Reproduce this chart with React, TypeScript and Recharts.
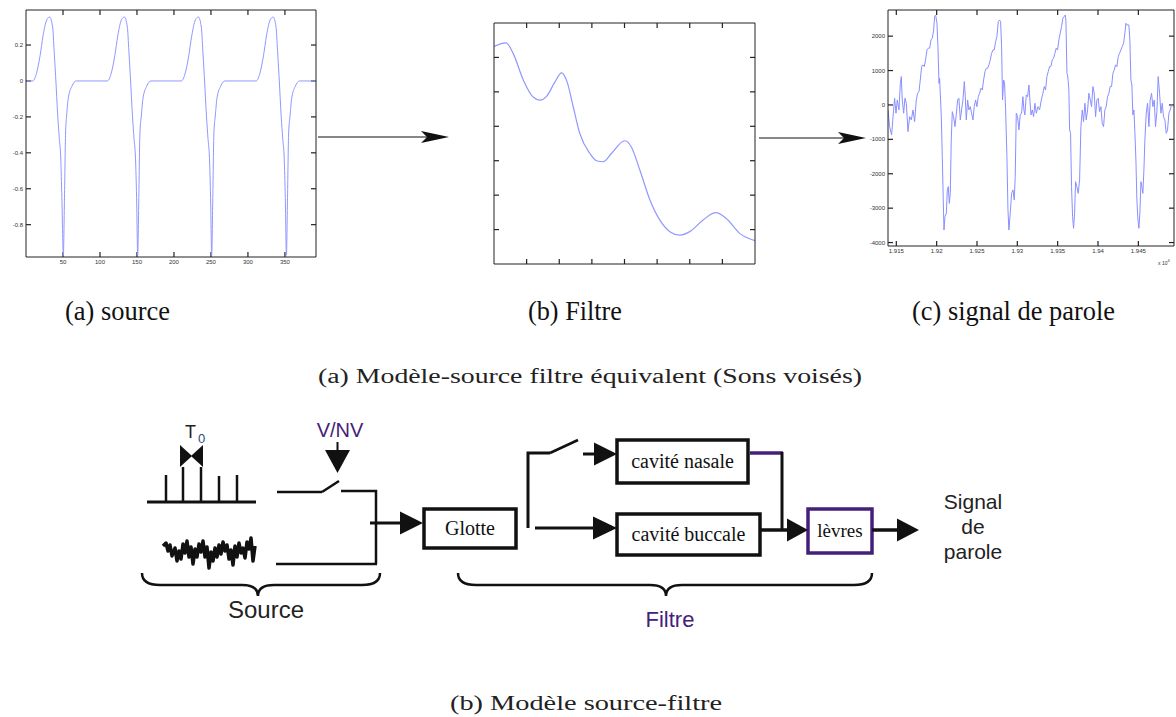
import React from "react";
import { LineChart, Line, XAxis, YAxis, ReferenceLine } from "recharts";

// (a) source : glottal pulses, 4 periods
const SOURCE_T = [
  1, 9, 14, 19, 23, 28, 32, 36, 38, 40, 43, 45, 47, 48.5, 50.5, 52, 53.5, 55, 57, 62, 68,
  110, 115, 120, 124, 129, 133, 137, 139, 141, 144, 146, 148, 149.5, 151, 152.5, 154, 156, 158, 163, 169,
  210, 215, 220, 224, 229, 233, 237, 239, 241, 244, 246, 248, 249.5, 251, 252.5, 254, 256, 258, 263, 269,
  311, 316, 321, 325, 330, 334, 338, 340, 342, 345, 347, 349, 350.5, 352, 353.5, 355, 357, 359, 364, 370, 392,
];
const SOURCE_V = [
  0, 0, 0.04, 0.14, 0.25, 0.34, 0.356, 0.3, 0.17, 0.03, -0.2, -0.32, -0.43, -0.65, -0.97, -0.65, -0.29, -0.19, -0.1, -0.03, 0,
  0, 0.04, 0.14, 0.25, 0.34, 0.356, 0.3, 0.17, 0.03, -0.2, -0.32, -0.43, -0.65, -0.97, -0.65, -0.29, -0.19, -0.1, -0.03, 0,
  0, 0.04, 0.14, 0.25, 0.34, 0.356, 0.3, 0.17, 0.03, -0.2, -0.32, -0.43, -0.65, -0.97, -0.65, -0.29, -0.19, -0.1, -0.03, 0,
  0, 0.04, 0.14, 0.25, 0.34, 0.356, 0.3, 0.17, 0.03, -0.2, -0.32, -0.43, -0.65, -0.97, -0.65, -0.29, -0.19, -0.1, -0.03, 0, 0,
];
const SOURCE_XTICKS = [50, 100, 150, 200, 250, 300, 350];
const SOURCE_YTICKS = [-0.8, -0.6, -0.4, -0.2, 0, 0.2];

// (b) filtre : spectral envelope, no labels
const FILTER_F = [
  0, 0.37, 0.59, 0.9, 1.2, 1.41, 1.61, 1.87, 2.07, 2.24, 2.43, 2.63, 2.94, 3.14, 3.35,
  3.6, 4.01, 4.21, 4.47, 4.78, 5.08, 5.39, 5.69, 6.0, 6.41, 6.8, 7.12, 7.53, 8.0,
];
const FILTER_G = [
  6.32, 6.42, 6.11, 5.34, 4.85, 4.76, 4.87, 5.29, 5.55, 5.29, 4.56, 3.79, 3.21, 3.0, 2.97,
  3.21, 3.58, 3.4, 2.73, 1.86, 1.28, 0.94, 0.84, 0.94, 1.28, 1.49, 1.32, 0.89, 0.68,
];
const FILTER_XTICKS = [1, 2, 3, 4, 5, 6, 7];
const FILTER_YTICKS = [1, 2, 3, 4, 5, 6];

// (c) signal de parole : samples (x 10^4) and amplitude
const SPEECH_T = [
  19139.7, 19141.7, 19144.2, 19146.3, 19147.9, 19149.6, 19151.2, 19153.3, 19155.0, 19156.2,
  19157.4, 19159.1, 19160.7, 19162.4, 19164.5, 19166.5, 19168.6, 19170.7, 19172.7, 19174.8,
  19176.4, 19178.1, 19179.7, 19181.4, 19183.0, 19184.7, 19186.3, 19188.0, 19189.6, 19191.3,
  19193.0, 19194.6, 19196.3, 19197.5, 19198.7, 19200.4, 19201.6, 19202.9, 19203.7, 19204.5,
  19205.8, 19207.0, 19208.2, 19209.1, 19210.3, 19212.0, 19213.2, 19214.4, 19215.7, 19216.9,
  19218.1, 19219.4, 19221.0, 19222.7, 19224.3, 19226.0, 19227.6, 19229.3, 19230.9, 19232.6,
  19234.3, 19235.5, 19236.7, 19238.4, 19240.0, 19241.7, 19243.3, 19245.0, 19246.6, 19248.3,
  19249.9, 19251.6, 19253.3, 19254.9, 19256.6, 19258.2, 19259.9, 19261.5, 19263.2, 19264.8,
  19266.5, 19268.1, 19269.8, 19271.4, 19273.1, 19274.7, 19276.4, 19278.0, 19279.3, 19280.5,
  19281.7, 19283.0, 19284.2, 19285.5, 19287.1, 19288.4, 19289.6, 19291.2, 19292.9, 19294.6,
  19296.2, 19297.4, 19298.7, 19300.3, 19302.0, 19303.6, 19305.3, 19306.9, 19308.2, 19309.4,
  19311.1, 19312.7, 19314.4, 19315.6, 19316.9, 19318.5, 19320.2, 19321.8, 19323.5, 19325.5,
  19327.6, 19329.7, 19331.7, 19333.4, 19335.0, 19336.7, 19338.3, 19340.0, 19341.6, 19343.3,
  19344.9, 19346.6, 19348.2, 19349.9, 19351.5, 19353.2, 19354.8, 19356.5, 19358.2, 19359.4,
  19360.2, 19361.5, 19362.3, 19363.1, 19363.9, 19364.8, 19366.0, 19367.2, 19368.5, 19369.7,
  19371.0, 19372.2, 19373.8, 19375.5, 19377.2, 19378.8, 19380.5, 19382.1, 19383.8, 19385.4,
  19387.1, 19388.7, 19390.4, 19392.0, 19393.7, 19395.3, 19397.0, 19398.6, 19400.3, 19401.9,
  19403.6, 19405.2, 19406.9, 19408.5, 19410.2, 19411.8, 19413.5, 19415.1, 19416.8, 19418.5,
  19420.1, 19421.8, 19423.4, 19425.1, 19426.7, 19428.4, 19430.0, 19431.7, 19433.3, 19434.6,
  19435.8, 19438.3, 19439.5, 19440.8, 19442.0, 19443.2, 19444.5, 19445.7, 19447.0, 19448.2,
  19449.4, 19450.7, 19451.9, 19453.2, 19454.4, 19455.6, 19456.9, 19458.1, 19459.8, 19461.4,
  19463.1, 19464.7, 19466.4, 19468.0, 19469.7, 19471.3, 19473.0, 19474.6, 19476.3, 19478.0,
  19479.6, 19481.2, 19482.9, 19484.6, 19486.2, 19487.9, 19489.5, 19491.2, 19493.6,
];
const SPEECH_V = [
  -145, -630, -870, -240, 195, -240, 145, -145, 630, 825,
  145, -240, 195, 50, -775, -340, -435, -145, -485, 145,
  340, 390, 725, 1115, 1165, 1115, 1310, 1600, 1650, 1650,
  1890, 1940, 2180, 2570, 2615, 2375, 1695, 630, 775, 340,
  -340, -1500, -2760, -3635, -3245, -3150, -2470, -2375, -2860, -2570,
  -1015, -195, -340, -630, -290, 145, 195, -435, -145, 145,
  680, 240, -435, 145, -145, -50, -240, -435, -50, 145,
  -50, 240, 340, 485, 435, 725, 970, 1065, 1065, 1165,
  1310, 1500, 1600, 1600, 1840, 1985, 2420, 2470, 2420, 1695,
  145, 725, 630, -145, -1500, -3050, -3635, -3150, -2570, -2470,
  -2760, -2085, -240, -340, -725, -290, -240, 240, -145, -290,
  290, 240, 580, 145, -290, -145, -340, 50, -240, -50,
  -145, 145, 340, 535, 435, 825, 970, 1115, 1115, 1310,
  1355, 1500, 1650, 1600, 1890, 2085, 2275, 2520, 2570, 2615,
  2470, 920, 870, 680, 435, -725, -825, -2375, -3245, -3585,
  -3150, -2230, -2375, -2570, -2180, -630, -145, -485, 50, -435,
  -145, 340, 145, -50, 535, 340, -340, 145, 195, -195,
  -50, -535, -630, -145, -50, 240, 340, 535, 535, 920,
  1015, 1165, 1115, 1405, 1500, 1600, 1695, 1790, 2085, 2375,
  2325, 2325, 1890, 725, 580, -290, -145, -775, -1600, -2760,
  -3295, -3585, -3150, -2230, -2375, -2570, -1890, -1015, -240, 50,
  -630, 145, 340, -50, 145, -630, -195, 825, 340, -240,
  50, -340, -435, -825, -725, -240, -145, 0, -50,
];
const SPEECH_XTICKS = [19150, 19200, 19250, 19300, 19350, 19400, 19450];
const SPEECH_YTICKS = [-4000, -3000, -2000, -1000, 0, 1000, 2000];

const sourceData = SOURCE_T.map((t, i) => ({ t, v: SOURCE_V[i] }));
const filterData = FILTER_F.map((f, i) => ({ f, g: FILTER_G[i] }));
const speechData = SPEECH_T.map((t, i) => ({ t, v: SPEECH_V[i] }));

const LINE_BLUE = "#9297ff";
const FRAME = "#222";
const tickFont = { fontSize: 6, fill: "#333", fontFamily: "Liberation Sans" };
const noLabel = () => <g />;

const frameAxis = {
  axisLine: { stroke: FRAME, strokeWidth: 1 },
  tickLine: false,
  tickSize: -5,
  allowDataOverflow: true,
  interval: 0 as const,
};

// draws only 5px at both ends of a reference line -> inward tick marks on both sides
const InnerTicks = (p: any) => {
  const { x1, y1, x2, y2 } = p;
  const len = Math.hypot(x2 - x1, y2 - y1) || 1;
  const ux = ((x2 - x1) / len) * 5;
  const uy = ((y2 - y1) / len) * 5;
  return (
    <g stroke={FRAME} strokeWidth={1.2}>
      <line x1={x1} y1={y1} x2={x1 + ux} y2={y1 + uy} />
      <line x1={x2} y1={y2} x2={x2 - ux} y2={y2 - uy} />
    </g>
  );
};

// matlab style box: axis lines on 4 sides, labels on bottom/left only
function Frame(props: {
  xKey: string;
  yKey: string;
  xDomain: [number, number];
  yDomain: [number, number];
  xTicks: number[];
  yTicks: number[];
  sizes: [number, number, number, number]; // top, right, bottom, left
  xLabels?: boolean;
  yLabels?: boolean;
  xFormat?: (v: number) => string;
}) {
  const [t, r, b, l] = props.sizes;
  return [
    <XAxis
      key="xb"
      xAxisId="b"
      dataKey={props.xKey}
      type="number"
      domain={props.xDomain}
      ticks={props.xTicks}
      height={b}
      tickMargin={8}
      tick={props.xLabels ? tickFont : noLabel}
      tickFormatter={props.xFormat}
      {...frameAxis}
    />,
    <XAxis
      key="xt"
      xAxisId="t"
      dataKey={props.xKey}
      orientation="top"
      type="number"
      domain={props.xDomain}
      ticks={props.xTicks}
      height={t}
      tick={noLabel}
      {...frameAxis}
    />,
    <YAxis
      key="yl"
      yAxisId="l"
      dataKey={props.yKey}
      type="number"
      domain={props.yDomain}
      ticks={props.yTicks}
      width={l}
      tickMargin={8}
      tick={props.yLabels ? tickFont : noLabel}
      {...frameAxis}
    />,
    <YAxis
      key="yr"
      yAxisId="r"
      dataKey={props.yKey}
      orientation="right"
      type="number"
      domain={props.yDomain}
      ticks={props.yTicks}
      width={r}
      tick={noLabel}
      {...frameAxis}
    />,
    ...props.xTicks.map((x) => (
      <ReferenceLine key={`tx${x}`} xAxisId="b" yAxisId="l" x={x} stroke={FRAME} shape={InnerTicks} />
    )),
    ...props.yTicks.map((y) => (
      <ReferenceLine key={`ty${y}`} xAxisId="b" yAxisId="l" y={y} stroke={FRAME} shape={InnerTicks} />
    )),
  ];
}

const SourceChart = () => (
  <div style={{ position: "absolute", left: 0, top: 0 }}>
    <LineChart width={330} height={275} data={sourceData} margin={{ top: 0, right: 0, bottom: 0, left: 0 }}>
      {Frame({
        xKey: "t",
        yKey: "v",
        xDomain: [0, 392],
        yDomain: [-0.98, 0.395],
        xTicks: SOURCE_XTICKS,
        yTicks: SOURCE_YTICKS,
        sizes: [10, 14, 18, 26],
        xLabels: true,
        yLabels: true,
      })}
      <Line xAxisId="b" yAxisId="l" type="monotone" dataKey="v" stroke={LINE_BLUE} strokeWidth={1} dot={false} isAnimationActive={false} />
    </LineChart>
  </div>
);

const FilterChart = () => (
  <div style={{ position: "absolute", left: 480, top: 10 }}>
    <LineChart width={290} height={265} data={filterData} margin={{ top: 0, right: 0, bottom: 0, left: 0 }}>
      {Frame({
        xKey: "f",
        yKey: "g",
        xDomain: [0, 8],
        yDomain: [0, 7],
        xTicks: FILTER_XTICKS,
        yTicks: FILTER_YTICKS,
        sizes: [13, 15, 11, 14],
      })}
      <Line xAxisId="b" yAxisId="l" type="monotone" dataKey="g" stroke={LINE_BLUE} strokeWidth={1.2} dot={false} isAnimationActive={false} />
    </LineChart>
  </div>
);

const SpeechChart = () => (
  <div style={{ position: "absolute", left: 850, top: 0 }}>
    <LineChart width={326} height={275} data={speechData} margin={{ top: 0, right: 0, bottom: 0, left: 0 }}>
      {Frame({
        xKey: "t",
        yKey: "v",
        xDomain: [19139.7, 19494.2],
        yDomain: [-4100, 2760],
        xTicks: SPEECH_XTICKS,
        yTicks: SPEECH_YTICKS,
        sizes: [10, 2, 29, 38],
        xLabels: true,
        yLabels: true,
        xFormat: (v: number) => String(parseFloat((v / 10000).toFixed(3))),
      })}
      <Line xAxisId="b" yAxisId="l" type="linear" dataKey="v" stroke="#8a8fff" strokeWidth={1} dot={false} isAnimationActive={false} />
    </LineChart>
  </div>
);

const PURPLE = "#45207a";
const INK = "#111";
const serif = "Liberation Serif";
const sans = "Liberation Sans";

const Arrow = ({ x1, x2, y, len = 22, half = 11.5, w = 3 }: { x1: number; x2: number; y: number; len?: number; half?: number; w?: number }) => (
  <g>
    <line x1={x1} y1={y} x2={x2 - len + 3} y2={y} stroke={INK} strokeWidth={w} />
    <polygon points={`${x2 - len},${y - half} ${x2},${y} ${x2 - len},${y + half}`} fill={INK} />
  </g>
);

const Dart = ({ x1, x2, y }: { x1: number; x2: number; y: number }) => (
  <g>
    <line x1={x1} y1={y} x2={x2 - 20} y2={y} stroke={INK} strokeWidth={1.2} />
    <polygon points={`${x2},${y} ${x2 - 28},${y - 6} ${x2 - 22},${y} ${x2 - 28},${y + 6}`} fill={INK} />
  </g>
);

const Brace = ({ x1, x2, xm }: { x1: number; x2: number; xm: number }) => (
  <path
    d={`M${x1},573 Q${x1},585 ${x1 + 18},585 L${xm - 16},585 Q${xm},585 ${xm},596 Q${xm},585 ${xm + 16},585 L${x2 - 18},585 Q${x2},585 ${x2},573`}
    fill="none"
    stroke={INK}
    strokeWidth={2.5}
  />
);

const NOISE = "163,546 166,543 168,551 170,545 172,556 175,548 177,561 179,551 181,559 183,544 185,553 187,541 189,557 191,547 193,564 195,549 197,557 199,544 201,552 203,541 205,557 207,547 209,568 211,552 213,561 215,548 217,557 219,545 221,554 223,542 225,551 227,545 229,559 231,550 233,565 235,546 237,557 239,543 241,553 243,548 245,558 247,542 249,549 251,538 253,561 255,546";

const Overlay = () => (
  <svg width={1176} height={717} style={{ position: "absolute", left: 0, top: 0 }}>
    {/* arrows between the three plots */}
    <Dart x1={318} x2={449} y={137} />
    <Dart x1={759} x2={866} y={138} />

    {/* sub captions */}
    <g fontFamily={serif} fontSize={27} fill={INK}>
      <text x={65} y={320} textLength={105} lengthAdjust="spacingAndGlyphs">(a) source</text>
      <text x={528} y={320} textLength={94} lengthAdjust="spacingAndGlyphs">(b) Filtre</text>
      <text x={912} y={320} textLength={203} lengthAdjust="spacingAndGlyphs">(c) signal de parole</text>
    </g>
    <text x={590} y={383} textAnchor="middle" fontFamily={serif} fontSize={20} fill="#222" textLength={544} lengthAdjust="spacingAndGlyphs">
      (a)  Modèle-source filtre équivalent (Sons voisés)
    </text>
    <text x={586} y={710} textAnchor="middle" fontFamily={serif} fontSize={20} fill="#222" textLength={272} lengthAdjust="spacingAndGlyphs">
      (b)  Modèle source-filtre
    </text>
    <text x={1158} y={265} fontFamily={sans} fontSize={5} fill="#333">
      x 10<tspan dy={-3} fontSize={4}>4</tspan>
    </text>

    {/* source: impulse train + noise */}
    <text x={185} y={438} fontFamily={sans} fontSize={18} fill="#222">T</text>
    <text x={198} y={443} fontFamily={sans} fontSize={13} fill="#2c4a7c">0</text>
    <polygon points="180,445 192,456 180,467" fill={INK} />
    <polygon points="203,445 191,456 203,467" fill={INK} />
    <line x1={147} y1={502} x2={256} y2={502} stroke={INK} strokeWidth={3} />
    <g stroke={INK} strokeWidth={2.5}>
      <line x1={166} y1={502} x2={166} y2={475} />
      <line x1={183} y1={502} x2={183} y2={467} />
      <line x1={201} y1={502} x2={201} y2={467} />
      <line x1={219} y1={502} x2={219} y2={476} />
      <line x1={237} y1={502} x2={237} y2={475} />
    </g>
    <polyline points={NOISE} fill="none" stroke={INK} strokeWidth={3.5} strokeLinejoin="round" />

    {/* V/NV switch */}
    <text x={340} y={437} textAnchor="middle" fontFamily={sans} fontSize={20} fill={PURPLE}>V/NV</text>
    <line x1={337.5} y1={442} x2={337.5} y2={452} stroke={INK} strokeWidth={2} />
    <polygon points="325,450 350,450 337.5,473" fill={INK} />
    <g stroke={INK} strokeWidth={2.5} fill="none">
      <line x1={277} y1={492} x2={322} y2={492} />
      <line x1={322} y1={492} x2={339} y2={481} />
      <polyline points="341,491 376,491 376,564" />
      <line x1={276} y1={564} x2={377} y2={564} />
    </g>
    <Arrow x1={370} x2={423} y={523} len={23} />

    {/* filter blocks */}
    <g fill="white" stroke={INK} strokeWidth={3.5}>
      <rect x={424} y={509} width={92} height={39} />
      <rect x={617} y={440} width={131} height={43} />
      <rect x={617} y={514} width={143} height={41} />
    </g>
    <rect x={808} y={509} width={64} height={44} fill="white" stroke={PURPLE} strokeWidth={3.5} />
    <g fontFamily={serif} fontSize={20} fill={INK} textAnchor="middle">
      <text x={470} y={535}>Glotte</text>
      <text x={682.5} y={468}>cavité nasale</text>
      <text x={688.5} y={541}>cavité buccale</text>
      <text x={840} y={537} fontSize={19}>lèvres</text>
    </g>
    <g stroke={INK} strokeWidth={3} fill="none">
      <polyline points="528,528 528,453 550,453" />
      <line x1={550} y1={453} x2={578} y2={440} strokeWidth={2.5} />
    </g>
    <Arrow x1={583} x2={617} y={454} len={23} />
    <Arrow x1={535} x2={617} y={528} len={24} />
    <line x1={750} y1={453} x2={783} y2={453} stroke={PURPLE} strokeWidth={3.5} />
    <line x1={782} y1={452} x2={782} y2={530} stroke={INK} strokeWidth={3} />
    <Arrow x1={760} x2={808} y={530} len={21} w={3.5} />
    <Arrow x1={872} x2={919} y={530} len={22} w={3.5} />
    <g fontFamily={sans} fontSize={21} fill="#222" textAnchor="middle">
      <text x={973} y={509}>Signal</text>
      <text x={973} y={534}>de</text>
      <text x={973} y={559}>parole</text>
    </g>

    {/* braces */}
    <Brace x1={142} x2={380} xm={258} />
    <Brace x1={458} x2={872} xm={666} />
    <text x={266} y={618} textAnchor="middle" fontFamily={sans} fontSize={24} fill="#222">Source</text>
    <text x={670} y={627} textAnchor="middle" fontFamily={sans} fontSize={22} fill={PURPLE}>Filtre</text>
  </svg>
);

export default function App() {
  return (
    <div style={{ position: "relative", width: 1176, height: 717, background: "#fff", overflow: "hidden" }}>
      <style>{"body{margin:0}"}</style>
      <SourceChart />
      <FilterChart />
      <SpeechChart />
      <Overlay />
    </div>
  );
}
